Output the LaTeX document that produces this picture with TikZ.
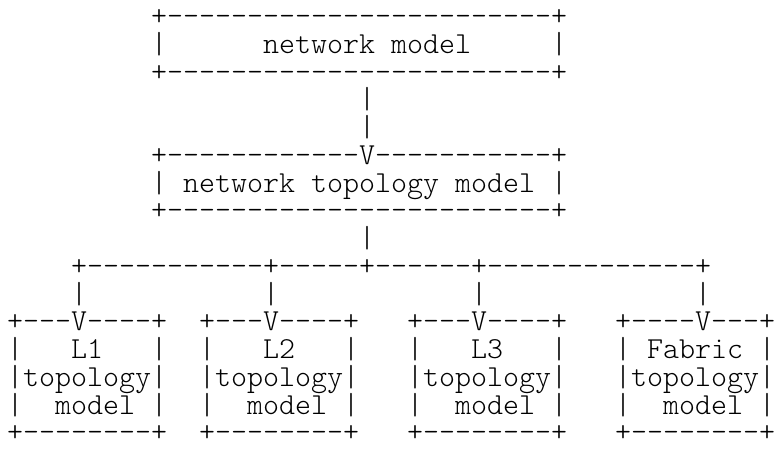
\documentclass[tikz,border=0pt]{standalone}
\usepackage{fontspec}
\newfontfamily\asciifont{Latin Modern Mono Light}

% one text cell of the typewriter grid: column pitch 16pt, line pitch 27.73pt
\tikzset{
  asc/.style={anchor=base west, inner sep=0pt, outer sep=0pt, text=black,
              font=\fontsize{30.48}{30.48}\selectfont\asciifont}
}
% run of separate hyphens (kerns keep them from becoming dashes)
\newcommand{\dashrun}[1]{\foreach \dd in {1,...,#1}{-\kern0pt}}
% \ascline{name}{column}{line}{text}
\newcommand{\ascline}[4]{%
  \node[asc] (#1) at ({7+16*#2}, {-(25.8+27.73*(#3-1))}) {#4};}

\begin{document}
\begin{tikzpicture}[x=1pt, y=1pt]
  \useasboundingbox (0,0) rectangle (774,-462);
  \fill[white] (0,0) rectangle (774,-462);

  % network model
  \ascline{topA}{9}{1}{+\dashrun{24}+}
  \ascline{topB}{9}{2}{|~~~~~~network~model~~~~~|}
  \ascline{topC}{9}{3}{+\dashrun{24}+}

  % link down to the topology model
  \ascline{linkA}{22}{4}{|}
  \ascline{linkB}{22}{5}{|}

  % network topology model
  \ascline{midA}{9}{6}{+\dashrun{12}V\dashrun{11}+}
  \ascline{midB}{9}{7}{|~network~topology~model~|}
  \ascline{midC}{9}{8}{+\dashrun{24}+}

  % trunk and distribution bus
  \ascline{trunk}{22}{9}{|}
  \ascline{bus}{4}{10}{+\dashrun{11}+\dashrun{5}+\dashrun{6}+\dashrun{13}+}

  % drops to the leaf models
  \ascline{dropA}{4}{11}{|}
  \ascline{dropB}{16}{11}{|}
  \ascline{dropC}{29}{11}{|}
  \ascline{dropD}{43}{11}{|}

  % L1 topology model
  \ascline{lA1}{0}{12}{+\dashrun{3}V\dashrun{4}+}
  \ascline{lA2}{0}{13}{|~~~L1~~~|}
  \ascline{lA3}{0}{14}{|topology|}
  \ascline{lA4}{0}{15}{|~~model~|}
  \ascline{lA5}{0}{16}{+\dashrun{8}+}

  % L2 topology model
  \ascline{lB1}{12}{12}{+\dashrun{3}V\dashrun{4}+}
  \ascline{lB2}{12}{13}{|~~~L2~~~|}
  \ascline{lB3}{12}{14}{|topology|}
  \ascline{lB4}{12}{15}{|~~model~|}
  \ascline{lB5}{12}{16}{+\dashrun{8}+}

  % L3 topology model
  \ascline{lC1}{25}{12}{+\dashrun{3}V\dashrun{4}+}
  \ascline{lC2}{25}{13}{|~~~L3~~~|}
  \ascline{lC3}{25}{14}{|topology|}
  \ascline{lC4}{25}{15}{|~~model~|}
  \ascline{lC5}{25}{16}{+\dashrun{8}+}

  % Fabric topology model
  \ascline{lD1}{38}{12}{+\dashrun{4}V\dashrun{3}+}
  \ascline{lD2}{38}{13}{|~Fabric~|}
  \ascline{lD3}{38}{14}{|topology|}
  \ascline{lD4}{38}{15}{|~~model~|}
  \ascline{lD5}{38}{16}{+\dashrun{8}+}
\end{tikzpicture}
\end{document}
